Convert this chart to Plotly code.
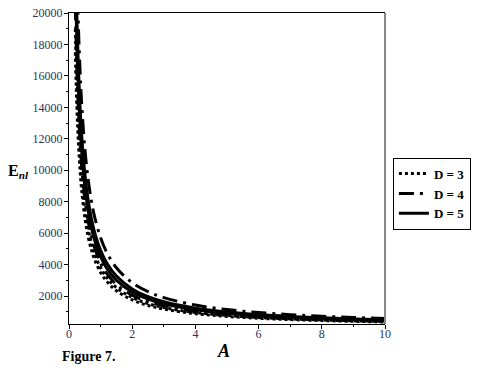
import plotly.graph_objects as go

A = [0.2, 0.25, 0.3, 0.35, 0.4, 0.5, 0.6, 0.7, 0.8, 1.0, 1.2, 1.5, 2.0, 2.5, 3.0, 4.0, 5.0, 6.0, 7.0, 8.0, 9.0, 10.0]

E_D4_upper = [28500, 22800, 19000, 16286, 14250, 11400, 9500, 8143, 7125, 5700, 4750, 3800, 2850, 2280, 1900, 1425, 1140, 950, 814, 713, 633, 570]
E_D5_upper = [24500, 19600, 16333, 14000, 12250, 9800, 8167, 7000, 6125, 4900, 4083, 3267, 2450, 1960, 1633, 1225, 980, 817, 700, 613, 544, 490]
E_D5_lower = [22500, 18000, 15000, 12857, 11250, 9000, 7500, 6429, 5625, 4500, 3750, 3000, 2250, 1800, 1500, 1125, 900, 750, 643, 563, 500, 450]
E_D4_lower = [20500, 16400, 13667, 11714, 10250, 8200, 6833, 5857, 5125, 4100, 3417, 2733, 2050, 1640, 1367, 1025, 820, 683, 586, 513, 456, 410]
E_D3_upper = [19000, 15200, 12667, 10857, 9500, 7600, 6333, 5429, 4750, 3800, 3167, 2533, 1900, 1520, 1267, 950, 760, 633, 543, 475, 422, 380]
E_D3_lower = [17500, 14000, 11667, 10000, 8750, 7000, 5833, 5000, 4375, 3500, 2917, 2333, 1750, 1400, 1167, 875, 700, 583, 500, 438, 389, 350]

x_ticks = [0, 2, 4, 6, 8, 10]
x_labels = ["0", "2", "4", "6", "8", "10"]
y_ticks = [2000, 4000, 6000, 8000, 10000, 12000, 14000, 16000, 18000, 20000]
y_labels = ["2000", "4000", "6000", "8000", "10000", "12000", "14000", "16000", "18000", "20000"]

series = [
    ("<b>D = 4</b>", E_D4_upper, "longdashdot", True, 2),
    ("<b>D = 5</b>", E_D5_upper, "solid", False, 3),
    ("<b>D = 5</b>", E_D5_lower, "solid", True, 3),
    ("<b>D = 4</b>", E_D4_lower, "longdashdot", False, 2),
    ("<b>D = 3</b>", E_D3_upper, "dot", True, 1),
    ("<b>D = 3</b>", E_D3_lower, "dot", False, 1),
]

SERIF = "Times New Roman, Liberation Serif, serif"

fig = go.Figure()
for name, vals, dash, show, rank in series:
    fig.add_trace(go.Scatter(
        x=A, y=vals, mode="lines", name=name,
        line=dict(color="black", width=3, dash=dash, shape="spline"),
        showlegend=show, legendrank=rank,
    ))

tickfont = dict(family=SERIF, size=12, color="#26345e")
fig.update_xaxes(
    range=[0, 10], tickvals=x_ticks, ticktext=x_labels, ticks="outside", ticklen=4,
    tickcolor="black", showline=True, linecolor="black", linewidth=1, mirror=True,
    showgrid=False, zeroline=False, tickfont=tickfont, automargin=False,
    ticklabeloverflow="allow", ticklabelstandoff=-5,
    minor=dict(tickvals=[1, 3, 5, 7, 9], ticks="outside", ticklen=2, tickcolor="black"),
)
fig.update_yaxes(
    range=[220, 20000], tickvals=y_ticks, ticktext=y_labels, ticks="outside", ticklen=4,
    tickcolor="black", showline=True, linecolor="black", linewidth=1, showgrid=False,
    zeroline=False, tickfont=tickfont, automargin=False,
    ticklabeloverflow="allow", ticklabelstandoff=-1,
    minor=dict(tickvals=[1000, 3000, 5000, 7000, 9000, 11000, 13000, 15000, 17000, 19000],
               ticks="outside", ticklen=2, tickcolor="black"),
)

fig.add_shape(type="line", xref="paper", yref="paper", x0=1, x1=1, y0=0, y1=1,
              line=dict(color="#888888", width=2))

fig.add_annotation(text="<b>E</b><sub><b><i>nl</i></b></sub>", xref="paper", yref="paper",
                   x=-0.2, y=0.49, showarrow=False, xanchor="left",
                   font=dict(family=SERIF, size=16, color="black"))
fig.add_annotation(text="<b><i>A</i></b>", xref="paper", yref="paper",
                   x=0.49, y=-0.125, showarrow=False,
                   font=dict(family=SERIF, size=18, color="black"))
fig.add_annotation(text="<b>Figure 7.</b>", xref="paper", yref="paper",
                   x=-0.027, y=-0.105, showarrow=False, xanchor="left", yanchor="middle",
                   font=dict(family=SERIF, size=14, color="black"))

fig.update_layout(
    width=481, height=370,
    margin=dict(l=69, r=96, t=13, b=46, autoexpand=False),
    paper_bgcolor="white", plot_bgcolor="white",
    legend=dict(x=1.025, y=0.535, xanchor="left", yanchor="top",
                bordercolor="black", borderwidth=1, bgcolor="white",
                font=dict(family=SERIF, size=13, color="black"),
                tracegroupgap=0, itemwidth=30),
    showlegend=True,
)

# remove the default page margin so the 481x370 figure fills the window exactly
fig.write_html("out.html", config={"displayModeBar": False},
               post_script="document.body.style.margin='0';")
